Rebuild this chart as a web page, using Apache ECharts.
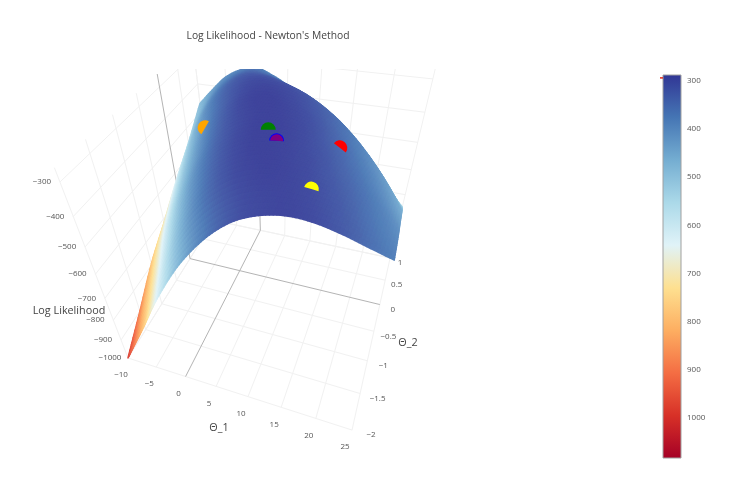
<!DOCTYPE html>
<html><head><meta charset="utf-8">
<style>html,body{margin:0;padding:0;background:#fff}#c{width:736px;height:488px}</style>
<script src="https://cdn.jsdelivr.net/npm/echarts@6/dist/echarts.min.js"></script>
</head><body><div id="c"></div>
<script>
const chartTitle = "Log Likelihood - Newton's Method";
const theta1Values = [-10,-7.5,-5,-2.5,0,2.5,5,7.5,10,12.5,15,17.5,20,22.5,25];
const theta2Values = [-2,-1.5,-1,-0.5,0,0.5,1];
// Height of the surface, one row per theta2 value
const zThetaM2   = [-1000,-895,-790,-680,-580,-490,-415,-353,-307,-280,-267,-269,-282,-301,-320];
const zThetaM15  = [-900,-790,-685,-580,-485,-405,-345,-303,-278,-268,-271,-284,-308,-341,-385];
const zThetaM1   = [-795,-690,-585,-490,-410,-350,-308,-282,-272,-276,-290,-315,-350,-397,-455];
const zThetaM05  = [-715,-605,-508,-428,-364,-319,-290,-278,-281,-296,-321,-356,-403,-461,-530];
const zTheta0    = [-630,-528,-444,-377,-329,-298,-285,-288,-302,-326,-360,-405,-460,-525,-600];
const zTheta05   = [-555,-461,-388,-337,-305,-295,-300,-314,-337,-370,-412,-464,-525,-595,-675];
const zTheta1    = [-470,-415,-365,-336,-322,-340,-368,-406,-445,-487,-536,-590,-645,-698,-753];
// Colour value of the surface
const cThetaM2   = [-1000,-895,-790,-680,-580,-490,-415,-355,-315,-298,-292,-300,-320,-350,-380];
const cThetaM15  = [-900,-790,-685,-580,-485,-405,-345,-308,-292,-290,-298,-315,-340,-370,-395];
const cThetaM1   = [-795,-690,-585,-490,-410,-350,-310,-290,-288,-295,-310,-335,-360,-385,-410];
const cThetaM05  = [-715,-605,-508,-428,-364,-319,-295,-288,-292,-305,-330,-355,-380,-405,-430];
const cTheta0    = [-630,-528,-444,-377,-329,-298,-288,-292,-305,-325,-350,-375,-400,-425,-450];
const cTheta05   = [-555,-461,-390,-345,-320,-310,-312,-320,-335,-355,-375,-400,-425,-450,-470];
const cTheta1    = [-490,-440,-410,-390,-380,-385,-395,-410,-430,-450,-470,-490,-510,-535,-560];
// Newton iterates
const stepNames  = ['orange','green','blue','purple','red','yellow'];
const stepTheta1 = [-7.8,8.3,10.2,10.2,16.5,16.1];
const stepTheta2 = [0.7,-0.65,-0.89,-0.89,-0.5,-1.54];
const stepZ      = [-517,-291,-281,-281,-333,-280];
// Axis ticks
const theta1Ticks = [-10,-5,0,5,10,15,20,25];
const theta2Ticks = [-2,-1.5,-1,-0.5,0,0.5,1];
const zTicks = [-1000,-900,-800,-700,-600,-500,-400,-300];
const colorTicks = [-300,-400,-500,-600,-700,-800,-900,-1000];
const colorMin = -1083, colorMax = -288, colorMarkValue = -294;
const colorStops = ['#a50026','#d73027','#f46d43','#fdae61','#fee090','#e0f3f8','#abd9e9','#74add1','#4575b4','#313695'];

// --- styles and camera ---
const markerStyle = [[-60,7.5],[0,7.5],[3,7.5],[3,6.6],[38,7.5],[16,7.5]];
const zRows = [zThetaM2,zThetaM15,zThetaM1,zThetaM05,zTheta0,zTheta05,zTheta1];
const cRows = [cThetaM2,cThetaM15,cThetaM1,cThetaM05,cTheta0,cTheta05,cTheta1];
const cam = {O:[128,358],A:[176.5,14],B:[150,-71.5],C:[-87,-233.5],w:[-0.135,0.3,-0.316]};
const zTop = -262, zBottom = -1000;
const SUB = 7;
const fmt = v => String(v).replace('-', '\u2212');
const font = '8px "Open Sans"';

function unit(t1,t2,z){return [(t1+10)/35,(t2+2)/3,(z+1000)/700];}
function depth(t1,t2,z){const [u,v,t]=unit(t1,t2,z);return 1+cam.w[0]*u+cam.w[1]*v+cam.w[2]*t;}
function project(t1,t2,z){
  const [u,v,t]=unit(t1,t2,z), d=depth(t1,t2,z);
  return [0,1].map(i=>(cam.O[i]+u*cam.A[i]+v*cam.B[i]+t*cam.C[i])/d);
}
function colorOf(v){
  const f=Math.min(1,Math.max(0,(v-colorMin)/(colorMax-colorMin)));
  return echarts.color.lerp(f,colorStops);
}
function shade(v){return echarts.color.lerp(0.07,[colorOf(v),'#ffffff']);}
// smooth shading across a table cell (like the surface smoothing of a 3D renderer)
function cr(a,b,c,d,f){return b+0.5*f*(c-a+f*(2*a-5*b+4*c-d+f*(3*(b-c)+d-a)));}
function rowAt(row,i,f){
  const g=k=>row[Math.max(0,Math.min(row.length-1,k))];
  const a=i===0?2*g(0)-g(1):g(i-1), d=i+2>row.length-1?2*g(i+1)-g(i):g(i+2);
  return cr(a,g(i),g(i+1),d,f);
}
function blend(rows,i,j,fi,fj){
  const vals=rows.map(r=>rowAt(r,i,fi));
  return rowAt(vals,j,fj);
}

// surface pieces
const quads=[];
for(let j=0;j<theta2Values.length-1;j++)for(let i=0;i<theta1Values.length-1;i++){
  for(let q=0;q<SUB;q++)for(let p=0;p<SUB;p++){
    const corner=(a,b)=>{
      const fi=(p+a)/SUB,fj=(q+b)/SUB;
      const t1=theta1Values[i]+(theta1Values[i+1]-theta1Values[i])*fi;
      const t2=theta2Values[j]+(theta2Values[j+1]-theta2Values[j])*fj;
      return [t1,t2,blend(zRows,i,j,fi,fj)];
    };
    const cs=[corner(0,0),corner(1,0),corner(1,1),corner(0,1)];
    const mid=corner(.5,.5);
    quads.push({pts:cs.map(c=>project(c[0],c[1],c[2])),d:depth(mid[0],mid[1],mid[2]),
      color:shade(blend(cRows,i,j,(p+.5)/SUB,(q+.5)/SUB))});
  }
}
quads.sort((a,b)=>b.d-a.d);

// grid lines
const lines=[];
const GRID='#f1f1f1', ZERO='#b4b4b4';
function addLine(a,b,color){lines.push({a:project(...a),b:project(...b),color});}
theta1Ticks.forEach(t=>{
  if(t!==0){addLine([t,-2,zBottom],[t,1,zBottom],GRID);addLine([t,1,zBottom],[t,1,zTop],GRID);}
});
theta2Ticks.forEach(t=>{
  if(t!==0){addLine([-10,t,zBottom],[25,t,zBottom],GRID);addLine([-10,t,zBottom],[-10,t,zTop],GRID);}
});
zTicks.forEach(z=>{
  addLine([-10,-2,z],[-10,1,z],GRID);
  addLine([-10,1,z],[25,1,z],GRID);
});
addLine([0,-2,zBottom],[0,1,zBottom],ZERO);addLine([0,1,zBottom],[0,1,zTop],ZERO);
addLine([-10,0,zBottom],[25,0,zBottom],ZERO);addLine([-10,0,zBottom],[-10,0,zTop],ZERO);

// tick labels
const labels=[];
theta1Ticks.forEach(t=>{const p=project(t,-2,zBottom);labels.push({p:[p[0]-7,p[1]+17],s:fmt(t)});});
theta2Ticks.forEach(t=>{const p=project(25,t,zBottom);const v=(t+2)/3;labels.push({p:[p[0]+19-9*v,p[1]+5],s:fmt(t)});});
zTicks.forEach(z=>{const p=project(-10,-2,z);labels.push({p:[p[0]-18,p[1]],s:fmt(z)});});

const idx=a=>a.map((_,i)=>[i]);
const chart=echarts.init(document.getElementById('c'),null,{renderer:'canvas'});
chart.setOption({
  animation:false,
  backgroundColor:'#fff',
  title:{text:chartTitle,left:263,top:26,textAlign:'center',
    textStyle:{fontFamily:'Open Sans',fontSize:10.3,fontWeight:'normal',color:'#444'}},
  grid:[{left:0,right:0,top:69,bottom:0},{left:663,width:18,top:75,height:383}],
  xAxis:[{type:'value',min:0,max:736,show:false},{type:'value',gridIndex:1,min:0,max:1,show:false}],
  yAxis:[{type:'value',min:69,max:488,inverse:true,show:false},
    {type:'value',gridIndex:1,min:colorMin,max:colorMax,position:'right',splitLine:{show:false},
     axisLine:{show:false},
     axisTick:{show:true,length:3,customValues:colorTicks,lineStyle:{color:'#666'}},
     axisLabel:{customValues:colorTicks,margin:6,formatter:v=>String(Math.abs(v)),color:'#555',fontFamily:'Open Sans',fontSize:8}}],
  graphic:[
    {type:'text',x:69,y:311,style:{text:'Log Likelihood',font:'10.8px "Open Sans"',fill:'#444',align:'center',verticalAlign:'middle'}},
    {type:'text',x:219,y:428,style:{text:'\u0398_1',font:'10.8px "Open Sans"',fill:'#444',align:'center',verticalAlign:'middle'}},
    {type:'text',x:408,y:343,style:{text:'\u0398_2',font:'10.8px "Open Sans"',fill:'#444',align:'center',verticalAlign:'middle'}}
  ],
  series:[
    {type:'custom',coordinateSystem:'cartesian2d',clip:true,silent:true,data:idx(lines),
     renderItem:(ps,api)=>{const l=lines[api.value(0)],a=api.coord(l.a),b=api.coord(l.b);
       return {type:'line',shape:{x1:a[0],y1:a[1],x2:b[0],y2:b[1]},style:{stroke:l.color,lineWidth:1}};}},
    {type:'custom',coordinateSystem:'cartesian2d',clip:true,silent:true,data:idx(quads),progressive:0,
     renderItem:(ps,api)=>{const q=quads[api.value(0)];
       return {type:'polygon',shape:{points:q.pts.map(p=>api.coord(p))},style:{fill:q.color,stroke:q.color,lineWidth:1.5,lineJoin:'round'}};}},
    {type:'custom',coordinateSystem:'cartesian2d',clip:true,silent:true,data:idx(stepNames),
     renderItem:(ps,api)=>{const i=api.value(0),c=api.coord(project(stepTheta1[i],stepTheta2[i],stepZ[i]));
       const phi=markerStyle[i][0]*Math.PI/180;
       return {type:'sector',shape:{cx:c[0],cy:c[1],r:markerStyle[i][1],r0:0,startAngle:Math.PI+phi,endAngle:2*Math.PI+phi,clockwise:true},style:{fill:stepNames[i]}};}},
    {type:'custom',coordinateSystem:'cartesian2d',clip:false,silent:true,data:idx(labels),
     renderItem:(ps,api)=>{const l=labels[api.value(0)],c=api.coord(l.p);
       return {type:'text',x:c[0],y:c[1],style:{text:l.s,font,fill:'#555',align:'center',verticalAlign:'middle'}};}},
    {type:'custom',coordinateSystem:'cartesian2d',xAxisIndex:1,yAxisIndex:1,clip:false,silent:true,data:[[0]],
     renderItem:(ps,api)=>{
       const tl=api.coord([0,colorMax]),br=api.coord([1,colorMin]);
       const grad=new echarts.graphic.LinearGradient(0,1,0,0,colorStops.map((c,i)=>({offset:i/(colorStops.length-1),color:c})));
       const m=api.coord([0,colorMarkValue]);
       return {type:'group',children:[
         {type:'rect',shape:{x:tl[0],y:tl[1],width:br[0]-tl[0],height:br[1]-tl[1]},style:{fill:grad,stroke:'#a0a0a0',lineWidth:1}},
         {type:'line',shape:{x1:m[0]-3,y1:m[1],x2:m[0],y2:m[1]},style:{stroke:'#e0301e',lineWidth:1.5}}
       ]};}}
  ]
});
</script></body></html>
